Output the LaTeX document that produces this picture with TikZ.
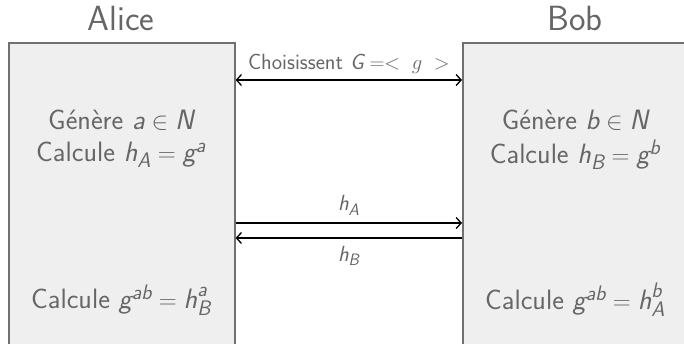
\documentclass[tikz,border=0pt]{standalone}
\usepackage{amsmath}
\usetikzlibrary{arrows.meta}
\definecolor{boxfill}{HTML}{EFEFEF}
\definecolor{boxline}{HTML}{707070}
\definecolor{txtgray}{HTML}{666666}
% sans italic letters inside formulas, with larger scripts
\newcommand{\vi}[1]{\textit{#1}}
\DeclareMathSizes{28}{28}{21}{15}
\DeclareMathSizes{22}{22}{16.5}{12}
\tikzset{
  party/.style={draw=boxline, line width=1.6pt, fill=boxfill, anchor=north west, inner sep=0pt},
  msg/.style={line width=1.3pt, black},
  who/.style={text=txtgray, font=\sffamily\fontsize{35}{40}\selectfont},
  act/.style={text=txtgray, font=\sffamily\fontsize{28}{32}\selectfont},
  lbl/.style={text=txtgray, font=\sffamily\fontsize{22}{25}\selectfont}
}
\begin{document}
\begin{tikzpicture}[x=1pt,y=-1pt,>={Straight Barb[length=5pt,width=11pt]}]
\useasboundingbox (0,0) rectangle (684,343);
\clip (0,0) rectangle (684,343);
% the two parties
\node[party, minimum width=226pt, minimum height=330pt] (alice) at (8,42) {};
\node[party, minimum width=240pt, minimum height=330pt] (bob) at (462,42) {};
\node[who] (alicename) at (121,18) {Alice};
\node[who] (bobname) at (575,18) {Bob};
% what each one does
\node[act] (agen) at (121,120) {Génère $\vi{a} \in \vi{N}$};
\node[act] (acalc) at (121,155) {Calcule $\vi{h}_{\vi{A}} = \vi{g}^{\vi{a}}$};
\node[act] (bgen) at (575,120) {Génère $\vi{b} \in \vi{N}$};
\node[act] (bcalc) at (575,155) {Calcule $\vi{h}_{\vi{B}} = \vi{g}^{\vi{b}}$};
\node[act] (akey) at (121,300) {Calcule $\vi{g}^{\vi{ab}} = \vi{h}_{\vi{B}}^{\vi{a}}$};
\node[act] (bkey) at (575,300) {Calcule $\vi{g}^{\vi{ab}} = \vi{h}_{\vi{A}}^{\vi{b}}$};
% levels of the messages
\coordinate (yG) at (0,80);
\coordinate (yA) at (0,223);
\coordinate (yB) at (0,238);
\draw[msg, <->] (alice.east |- yG) -- (bob.west |- yG)
  node[lbl, midway, above=2pt] (choix) {Choisissent $\vi{G} =<\;g\;>$};
\draw[msg, ->] (alice.east |- yA) -- (bob.west |- yA)
  node[lbl, midway, above=4pt] (ha) {$\vi{h}_{\vi{A}}$};
\draw[msg, ->] (bob.west |- yB) -- (alice.east |- yB)
  node[lbl, midway, below=4pt] (hb) {$\vi{h}_{\vi{B}}$};
\end{tikzpicture}
\end{document}
